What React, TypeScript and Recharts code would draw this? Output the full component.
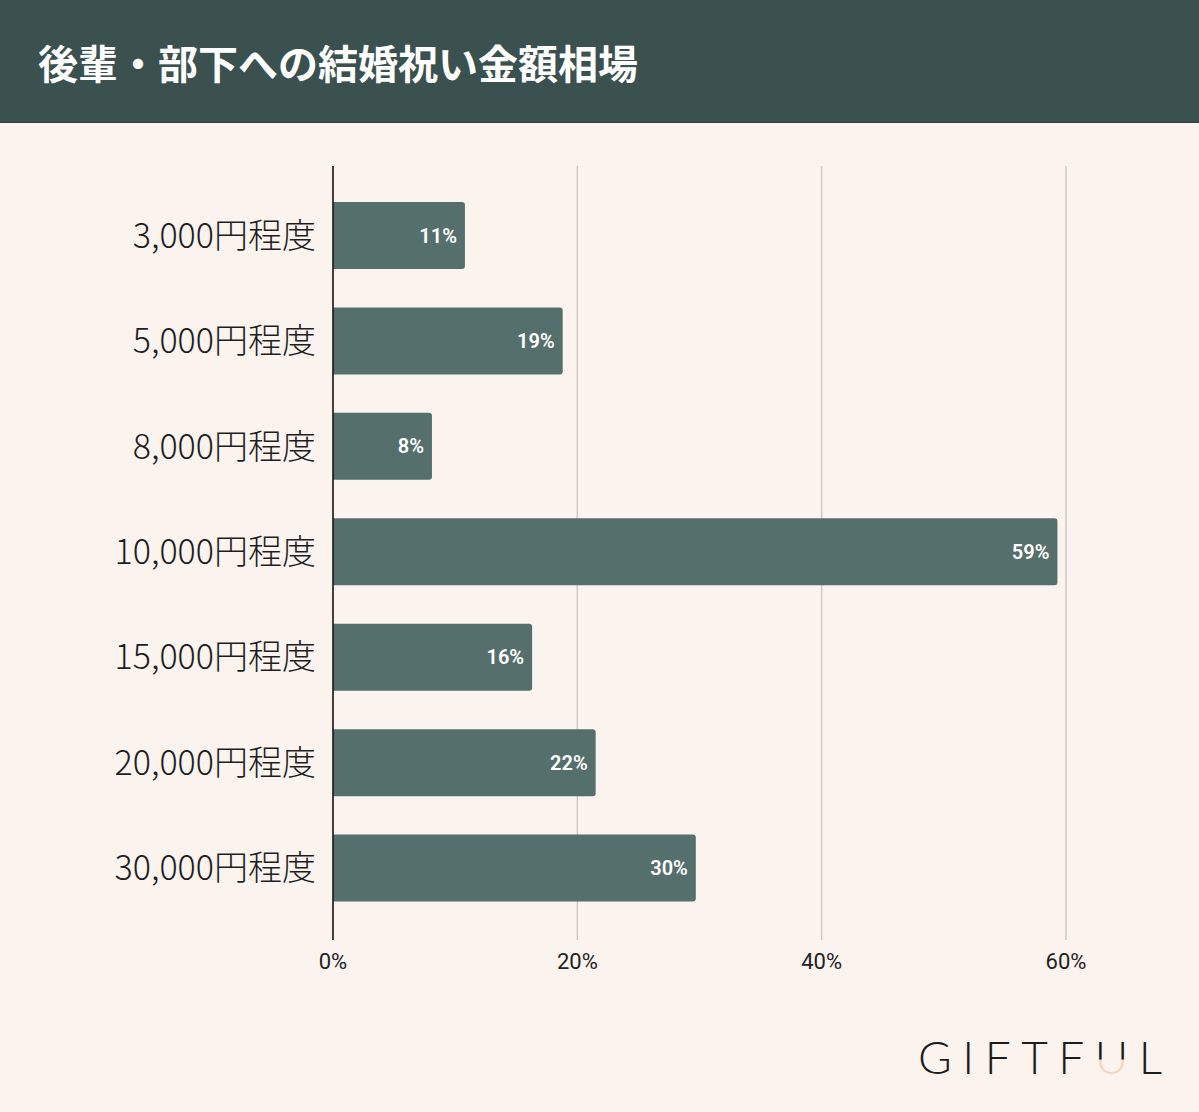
import React from 'react';
import { BarChart, Bar, XAxis, YAxis, CartesianGrid, LabelList } from 'recharts';

const categories = ['3,000円程度', '5,000円程度', '8,000円程度', '10,000円程度', '15,000円程度', '20,000円程度', '30,000円程度'];
const percents = [10.8, 18.8, 8.1, 59.3, 16.3, 21.5, 29.7];
const xTicks = [0, 20, 40, 60];

const data = categories.map((name, i) => ({ name, value: percents[i] }));

const W = 1199;
const H = 1112;
const BG = '#fbf3ee';
const HEADER = '#3a5150';
const BAR = '#556f6c';

export default function App() {
  return (
    <div style={{ position: 'absolute', left: 0, top: 0, width: W, height: H, background: BG, overflow: 'hidden' }}>
      <BarChart
        width={W}
        height={H}
        data={data}
        layout="vertical"
        margin={{ top: 166, right: W - 1066, bottom: H - 940 - 40, left: 0 }}
        barSize={67}
      >
        <CartesianGrid horizontal={false} vertical={true} stroke="#d2c9c5" strokeWidth={1.5} />
        <XAxis
          type="number"
          domain={[0, 60]}
          ticks={xTicks}
          tickFormatter={(v: number) => `${v}%`}
          axisLine={false}
          tickLine={false}
          tickSize={0}
          tickMargin={13}
          height={40}
          tick={{ fill: '#222', fontSize: 22, fontFamily: 'Roboto, sans-serif' }}
          interval={0}
        />
        <YAxis
          type="category"
          dataKey="name"
          width={333}
          axisLine={{ stroke: '#111', strokeWidth: 1.5 }}
          tickLine={false}
          tickSize={0}
          tickMargin={17}
          padding={{ top: 17, bottom: 19 }}
          tick={{ fill: '#1e1e1e', fontSize: 34, fontWeight: 300, fontFamily: '"Noto Sans CJK JP", sans-serif' }}
          interval={0}
        />
        <Bar dataKey="value" fill={BAR} radius={[0, 3, 3, 0]} isAnimationActive={false}>
          <LabelList
            dataKey="value"
            position="insideRight"
            offset={8}
            formatter={(v: number) => `${Math.round(v)}%`}
            style={{ fill: '#ffffff', fontSize: 20, fontWeight: 600, fontFamily: 'Roboto, sans-serif' }}
          />
        </Bar>
      </BarChart>
      <div
        style={{
          position: 'absolute',
          left: 0,
          top: 0,
          width: W,
          height: 123,
          background: HEADER,
          borderBottom: '1px solid #2c3d3c',
          boxSizing: 'border-box',
        }}
      >
        <div
          style={{
            position: 'absolute',
            left: 38,
            top: 36,
            color: '#ffffff',
            fontSize: 40,
            lineHeight: '52px',
            fontWeight: 700,
            fontFamily: '"Noto Sans CJK JP", sans-serif',
            whiteSpace: 'nowrap',
          }}
        >
          後輩・部下への結婚祝い金額相場
        </div>
      </div>
      <svg style={{ position: 'absolute', left: 900, top: 1020 }} width={290} height={80}>
        <defs>
          <linearGradient id="ugrad" x1="0" y1="0" x2="0" y2="1">
            <stop offset="0" stopColor="#1c1c1c" />
            <stop offset="0.55" stopColor="#1c1c1c" />
            <stop offset="0.56" stopColor="#f2d6c0" />
            <stop offset="1" stopColor="#f2d6c0" />
          </linearGradient>
        </defs>
        <text
          x={18}
          y={54}
          fontSize={46}
          fontWeight={300}
          fontFamily="Lato, sans-serif"
          fill="#1c1c1c"
          textLength={244}
          lengthAdjust="spacing"
        >
          GIFTF<tspan fill="url(#ugrad)">U</tspan>L
        </text>
      </svg>
    </div>
  );
}
